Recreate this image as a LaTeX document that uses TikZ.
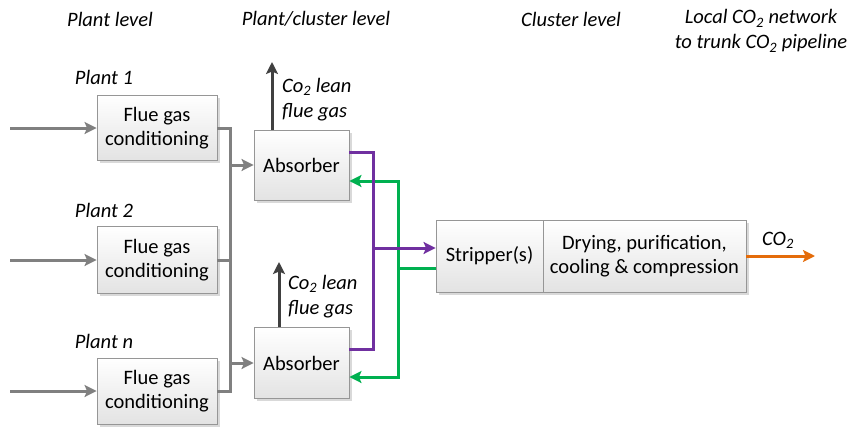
\documentclass[tikz,border=0pt]{standalone}
\usepackage{fontspec}
\setmainfont{Carlito}
\usetikzlibrary{arrows.meta,shadows,calc}
\definecolor{boxline}{RGB}{150,150,150}
\definecolor{flowgray}{RGB}{128,128,128}
\definecolor{darkarrow}{RGB}{64,64,64}
\definecolor{purpleflow}{RGB}{112,48,160}
\definecolor{greenflow}{RGB}{0,176,80}
\definecolor{orangeflow}{RGB}{228,108,10}
\tikzset{
  procbox/.style={draw=boxline, line width=0.9pt, top color=white, bottom color=black!11,
    drop shadow={shadow xshift=2.5pt, shadow yshift=-2.5pt, fill=black!25, opacity=0.6},
    align=center, inner sep=0pt, font=\fontsize{20.5}{24}\selectfont},
  flowtip/.style={-{Stealth[length=12pt,width=12pt,inset=2.5pt]}},
  grayflow/.style={draw=flowgray, line width=3pt},
  purpleline/.style={draw=purpleflow, line width=3pt},
  greenline/.style={draw=greenflow, line width=3pt},
  orangeline/.style={draw=orangeflow, line width=3pt},
  darkline/.style={draw=darkarrow, line width=3pt},
  lbl/.style={font=\fontsize{20.5}{25}\selectfont\itshape, align=center, inner sep=0pt},
}
\begin{document}
\begin{tikzpicture}[x=1pt,y=-1pt]
\useasboundingbox (0,0) rectangle (848,431);
% headers
\node[lbl] (h1) at (110,19) {Plant level};
\node[lbl] (h2) at (316,19) {Plant/cluster level};
\node[lbl] (h3) at (571,19) {Cluster level};
\node[lbl] (h4) at (761,31) {Local CO\textsubscript{2} network\\to trunk CO\textsubscript{2} pipeline};
% plant labels
\node[lbl] (p1) at (104,77) {Plant 1};
\node[lbl] (p2) at (104,210) {Plant 2};
\node[lbl] (pn) at (104,341) {Plant n};
% boxes
\node[procbox, minimum width=120pt, minimum height=65pt] (fgc1) at (157,128) {Flue gas\\conditioning};
\node[procbox, minimum width=120pt, minimum height=67pt] (fgc2) at (157,260) {Flue gas\\conditioning};
\node[procbox, minimum width=120pt, minimum height=66pt] (fgc3) at (157,391) {Flue gas\\conditioning};
\node[procbox, minimum width=95pt, minimum height=70pt] (abs1) at (301.5,165) {Absorber};
\node[procbox, minimum width=95pt, minimum height=71pt] (abs2) at (301.5,363) {Absorber};
\node[procbox, minimum width=107pt, minimum height=72pt] (strip) at (489.5,256) {Stripper(s)};
\node[procbox, minimum width=203pt, minimum height=72pt] (dry) at (644.5,256) {Drying, purification,\\cooling \& compression};
% inputs
\coordinate (in1) at (10,0);
\draw[grayflow, flowtip] (fgc1.west -| in1) -- (fgc1.west);
\draw[grayflow, flowtip] (fgc2.west -| in1) -- (fgc2.west);
\draw[grayflow, flowtip] (fgc3.west -| in1) -- (fgc3.west);
% gray bus
\coordinate (bus) at (230,0);
\draw[grayflow] (fgc1.east) -| (fgc3.east -| bus) -- (fgc3.east);
\draw[grayflow] (fgc2.east) -- (fgc2.east -| bus);
\draw[grayflow, flowtip] (abs1.west -| bus) -- (abs1.west);
\draw[grayflow, flowtip] (abs2.west -| bus) -- (abs2.west);
% lean flue gas
\coordinate (up1) at (272,62);
\coordinate (up2) at (279,262);
\draw[darkline, flowtip] (abs1.north -| up1) -- (up1);
\draw[darkline, flowtip] (abs2.north -| up2) -- (up2);
\node[lbl, anchor=west, align=left] (lean1) at (282,100) {Co\textsubscript{2} lean\\flue gas};
\node[lbl, anchor=west, align=left] (lean2) at (288,297) {Co\textsubscript{2} lean\\flue gas};
% green (lean solvent)
\coordinate (gj) at (398,268);
\draw[greenline] ([yshift=-12pt]strip.west) -- (gj);
\draw[greenline, flowtip] (gj) |- ([yshift=-16pt]abs1.east);
\draw[greenline, flowtip] (gj) |- ([yshift=-14pt]abs2.east);
% purple (rich solvent)
\coordinate (pj) at (373,248);
\draw[purpleline] ([yshift=13pt]abs1.east) -| (pj);
\draw[purpleline] ([yshift=14pt]abs2.east) -| (pj);
\draw[purpleline, flowtip] (pj) -- (pj -| strip.west);
% CO2 out
\coordinate (outco2) at (815,0);
\draw[orangeline, flowtip] (dry.east) -- (dry.east -| outco2);
\node[lbl] (co2) at (778,240) {CO\textsubscript{2}};
\end{tikzpicture}
\end{document}
